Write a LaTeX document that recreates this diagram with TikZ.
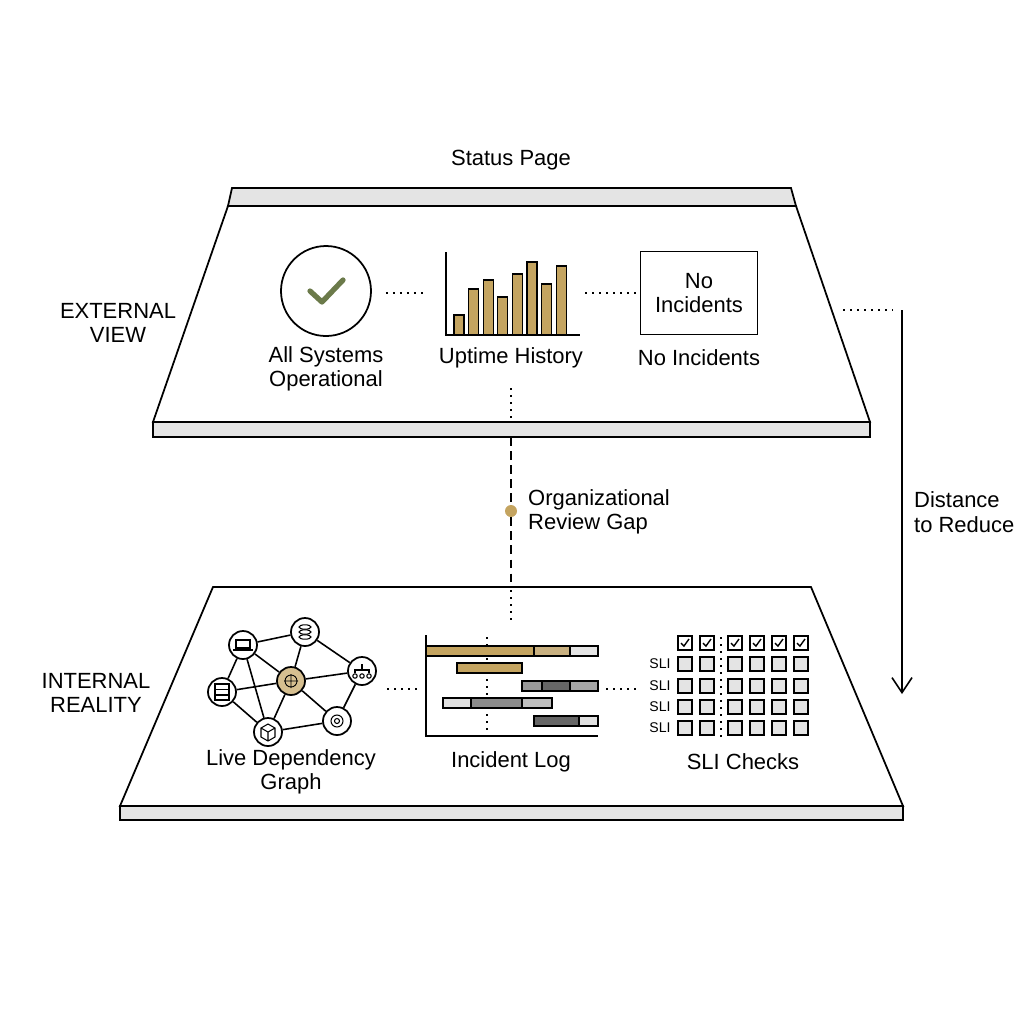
\documentclass[tikz,border=0pt]{standalone}
\usepackage{fontspec}
\setmainfont{Liberation Sans}
\usetikzlibrary{positioning,arrows.meta}
\definecolor{gold}{RGB}{196,164,96}
\definecolor{lgold}{RGB}{200,176,128}
\definecolor{olive}{RGB}{107,122,74}
\definecolor{slab}{RGB}{228,228,228}
\tikzset{
  panel/.style={draw, line width=1pt, fill=white},
  slabs/.style={draw, line width=1pt, fill=slab},
  lbl/.style={font=\fontsize{12.5}{14}\selectfont, align=center},
  dots/.style={line width=0.8pt, dash pattern=on 1pt off 3pt},
  svc/.style={circle, draw, line width=1pt, fill=white, minimum size=5.6mm, inner sep=0pt},
  edge/.style={line width=0.9pt},
  bar/.style={draw, line width=0.6pt},
  chk/.style={draw, line width=0.8pt, minimum size=2.8mm, inner sep=0pt},
}
\begin{document}
\begin{tikzpicture}[x=0.2mm,y=-0.2mm]
    \useasboundingbox (0,0) rectangle (1024,1024);

    % External view panel
    \draw[slabs] (232,188) -- (791,188) -- (796,206) -- (228,206) -- cycle;
    \draw[panel] (228,206) -- (796,206) -- (870,422) -- (153,422) -- cycle;
    \draw[slabs] (153,422) rectangle (870,437);
    \node[lbl] (title) at (511,160) {Status Page};
    \node[lbl] (ext) at (118,323) {EXTERNAL\\VIEW};

    % Status widgets
    \node[circle, draw, line width=1pt, minimum size=18mm] (ok) at (326,291) {};
    \draw[olive, line width=3pt, line cap=round, line join=round]
        (310,291) -- (322,302) -- (343,280);
    \coordinate (ax) at (446,335);
    \draw[line width=1pt] (446,252) -- (ax) -- (580,335);
    \foreach \i/\t in {0/315,1/289,2/280,3/297,4/274,5/262,6/284,7/266}
        \draw[bar, fill=gold] ({454+\i*14.6},335) rectangle ({464+\i*14.6},\t);
    \node[draw, line width=1pt, minimum width=23.4mm, minimum height=16.6mm, lbl] (noinc) at (699,293) {No\\Incidents};
    \node[lbl] (okl) at (326,369) {All Systems\\Operational};
    \node[lbl] (upl) at (511,358) {Uptime History};
    \node[lbl] (nil) at (699,358) {No Incidents};
    \draw[dots] (ok.east) ++(14,2) -- (428,293);
    \draw[dots] (585,293) -- (noinc.west);
    \coordinate (rtop) at (902,310);
    \draw[dots] (843,310) -- (893,310);

    % Gap between views
    \node[circle, fill=gold, minimum size=2.4mm, inner sep=0pt] (gap) at (511,511) {};
    \draw[dots] (511,388) -- (511,422);
    \draw[line width=1pt, dash pattern=on 5pt off 3pt] (511,437) -- (gap.north);
    \draw[line width=1pt, dash pattern=on 5pt off 3pt] (gap.south) -- (511,587);
    \node[lbl, anchor=west, align=left] (gapl) at (522,512) {Organizational\\Review Gap};

    % Distance arrow
    \coordinate (rbot) at (902,694);
    \draw[-{Straight Barb[length=3mm,width=4mm]}, line width=0.9pt] (rtop) -- (rbot);
    \node[lbl, anchor=west, align=left] (distl) at (908,512) {Distance\\to Reduce};

    % Internal reality panel
    \draw[panel] (213,587) -- (811,587) -- (903,806) -- (120,806) -- cycle;
    \draw[slabs] (120,806) rectangle (903,820);
    \node[lbl] (int) at (96,693) {INTERNAL\\REALITY};
    \draw[dots] (511,590) -- (511,625);

    % Dependency graph
    \node[svc] (lap) at (243,645) {};
    \node[svc] (db) at (305,632) {};
    \node[svc] (net) at (362,671) {};
    \node[svc] (srv) at (222,692) {};
    \node[svc] (cube) at (268,732) {};
    \node[svc] (gear) at (337,721) {};
    \node[svc, fill=gold!70] (hub) at (291,681) {};
    \foreach \a/\b in {lap/db, lap/hub, lap/srv, lap/cube, db/hub, db/net, hub/net,
                       hub/srv, hub/cube, hub/gear, srv/cube, cube/gear, net/gear}
        \draw[edge] (\a) -- (\b);
    % icons
    \draw[line width=0.6pt] (236,640) rectangle (250,648) (233,650) -- (253,650);
    \foreach \y in {627,632,637} \draw[line width=0.6pt] (305,\y) ellipse (6 and 2.2);
    \draw[line width=0.6pt] (215,684) rectangle (229,700) (215,689.5) -- (229,689.5) (215,695) -- (229,695);
    \draw[line width=0.6pt] (362,664) -- (362,670) (355,673) -- (355,670) -- (369,670) -- (369,673);
    \foreach \x in {355,362,369} \draw[line width=0.6pt] (\x,676) circle (2.2);
    \draw[line width=0.6pt] (261,728) -- (268,724) -- (275,728) -- (275,737) -- (268,741) -- (261,737) -- cycle
        (261,728) -- (268,732) -- (275,728) (268,732) -- (268,741);
    \draw[line width=0.6pt] (337,721) circle (2.5) (337,721) circle (6);
    \draw[line width=0.5pt] (284,681) -- (298,681) (291,674) -- (291,688) (291,681) circle (6);
    \node[lbl] (depl) at (291,772) {Live Dependency\\Graph};
    \draw[dots] (387,689) -- (418,689);

    % Incident log
    \draw[line width=1pt] (426,635) -- (426,736) -- (598,736);
    \draw[dots] (487,637) -- (487,736);
    \foreach \y/\a/\b/\c in {646/426/534/gold, 646/534/570/lgold, 646/570/598/slab,
        663/457/522/gold,
        681/522/542/black!40, 681/542/570/black!60, 681/570/598/black!35,
        698/443/471/black!12, 698/471/522/black!45, 698/522/552/black!25,
        716/534/579/black!60, 716/579/598/black!12}
        \draw[bar, fill=\c] (\a,\y) rectangle (\b,\y+10);
    \node[lbl] (logl) at (511,762) {Incident Log};
    \draw[dots] (606,689) -- (637,689);

    % SLI checks
    \draw[dots] (721,637) -- (721,740);
    \foreach \x in {685,707,735,757,779,801} {
        \node[chk, fill=white] at (\x,643) {};
        \draw[line width=0.8pt] (\x-4,643) -- (\x-1,646) -- (\x+4,639);
        \foreach \y in {664,686,707,728}
            \node[chk, fill=slab] at (\x,\y) {};
    }
    \foreach \y in {664,686,707,728}
        \node[font=\fontsize{8}{9}\selectfont] at (660,\y) {SLI};
    \node[lbl] (slil) at (743,762) {SLI Checks};
\end{tikzpicture}
\end{document}
